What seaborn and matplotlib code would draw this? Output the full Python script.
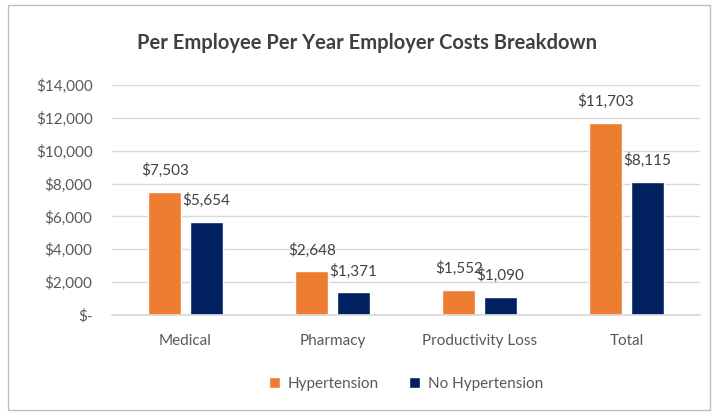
import pandas as pd
import matplotlib.pyplot as plt
import seaborn as sns
from matplotlib.patches import Rectangle
from matplotlib.ticker import FuncFormatter

categories = ['Medical', 'Pharmacy', 'Productivity Loss', 'Total']
series = ['Hypertension', 'No Hypertension']
hypertension = [7503, 2648, 1552, 11703]
no_hypertension = [5654, 1371, 1090, 8115]
colors = ['#ED7D31', '#002060']

df = pd.DataFrame({
    'category': categories * 2,
    'group': [series[0]] * 4 + [series[1]] * 4,
    'cost': hypertension + no_hypertension,
})

sns.set_theme(style='white')
plt.rcParams['font.family'] = ['Lato', 'DejaVu Sans']

fig = plt.figure(figsize=(7.19, 4.19), dpi=100)
ax = fig.add_axes([112 / 719, 1 - 315 / 419, 588 / 719, 230 / 419])

sns.barplot(data=df, x='category', y='cost', hue='group', palette=colors,
            saturation=1, width=0.56, gap=0.2, ax=ax, legend=True)

for cont in ax.containers:
    ax.bar_label(cont, labels=[f'${v:,.0f}' for v in cont.datavalues],
                 padding=10, fontsize=11, color='#404040')

ax.set_ylim(0, 14000)
ax.set_xlim(-0.5, 3.5)
ax.set_yticks(range(0, 14001, 2000))
ax.yaxis.set_major_formatter(FuncFormatter(lambda v, p: '$-' if v == 0 else f'${v:,.0f}'))
ax.grid(axis='y', color='#D9D9D9', linewidth=1)
ax.set_axisbelow(True)
for s in ['top', 'right', 'left']:
    ax.spines[s].set_visible(False)
ax.spines['bottom'].set_color('#D9D9D9')
ax.tick_params(axis='y', length=0, labelsize=11, labelcolor='#595959', pad=14)
ax.tick_params(axis='x', length=0, labelsize=11, labelcolor='#595959', pad=14)
ax.set_xlabel('')
ax.set_ylabel('')

ax.legend(loc='center', bbox_to_anchor=(0.5, -0.30), ncol=2, frameon=False,
          fontsize=11, labelcolor='#595959', handlelength=0.7, handleheight=0.7,
          columnspacing=2.0, handletextpad=0.5)

fig.text(367 / 719, 1 - 43 / 419, 'Per Employee Per Year Employer Costs Breakdown',
         ha='center', va='center', fontsize=14.5, fontweight='bold', color='#404040')

fig.patches.append(Rectangle((8 / 719, 1 - 410 / 419), 702 / 719, 405 / 419,
                             transform=fig.transFigure, fill=False,
                             edgecolor='#BFBFBF', linewidth=1))

fig.savefig('out.png', dpi=100)
